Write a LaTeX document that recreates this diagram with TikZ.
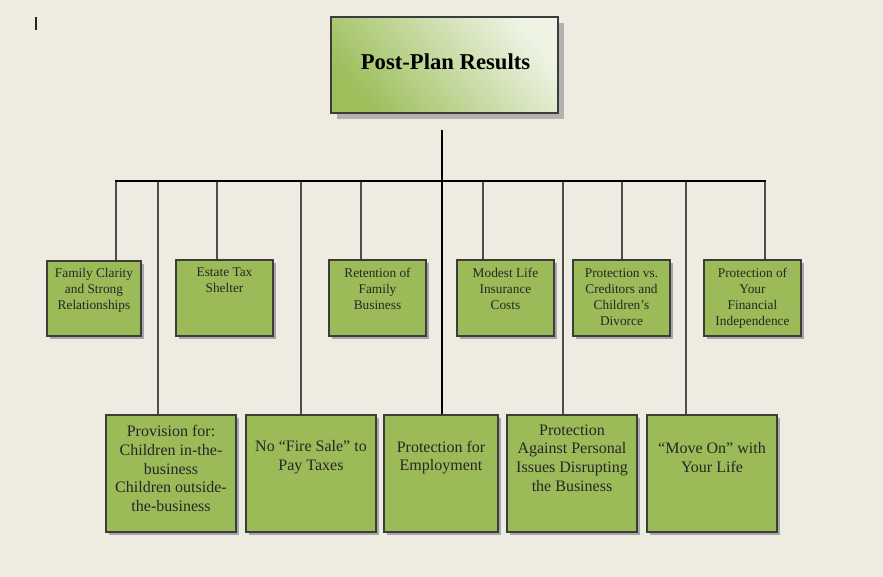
\documentclass[tikz,border=0pt]{standalone}
\usepackage{fontspec}
\setmainfont{Liberation Serif}
\usetikzlibrary{shadows}
\definecolor{bg}{HTML}{EEECE1}
\definecolor{boxgreen}{HTML}{9BBB59}
\definecolor{boxline}{HTML}{3C3C3C}
\definecolor{titlelight}{HTML}{EEF3E4}
\definecolor{titledark}{HTML}{9DBF5C}
\tikzset{
  px/.style={x=0.75pt,y=-0.75pt},
  greenbox/.style={draw=boxline, line width=0.8pt, fill=boxgreen, inner sep=0pt,
    drop shadow={shadow xshift=2.5pt, shadow yshift=-2.5pt, opacity=1, fill=black!35}},
  toptext/.style={anchor=north, align=center, inner sep=0pt, font=\fontsize{10}{12}\selectfont, text=black!85},
  bottext/.style={align=center, inner sep=0pt, font=\fontsize{12}{14}\selectfont, text=black!85},
  thinline/.style={draw=black!70, line width=0.8pt},
  thickline/.style={draw=black, line width=2.2pt},
}
\begin{document}
\begin{tikzpicture}[px]
\fill[bg] (0,0) rectangle (883,577);
\useasboundingbox (0,0) rectangle (883,577);
% cursor mark
\draw[black!85, line width=1.3pt] (36,17) -- (36,30);
% title
\fill[black!30] (337,23) rectangle (564,119);
\shade[top color=titlelight, bottom color=titledark, shading angle=-50] (331,17) rectangle (558,113);
\draw[boxline, line width=0.8pt] (331,17) rectangle (558,113);
\node[inner sep=0pt, font=\fontsize{17}{20}\selectfont\bfseries] (title) at (445.5,62) {Post-Plan Results};
% junctions
\coordinate (t0) at (442,130);
\coordinate (hl) at (115,181);
\coordinate (hr) at (766,181);
\foreach \n/\x in {j1/116, j2/217, j3/361, j4/483, j5/622, j6/765, k1/158, k2/301, k3/442, k4/563, k5/686}
  \coordinate (\n) at (\x,181);
% top boxes
\node[greenbox, minimum width=94*0.75pt, minimum height=75*0.75pt] (a1) at (94,298.5) {};
\node[greenbox, minimum width=97*0.75pt, minimum height=76*0.75pt] (a2) at (224.5,298) {};
\node[greenbox, minimum width=97*0.75pt, minimum height=76*0.75pt] (a3) at (377.5,298) {};
\node[greenbox, minimum width=97*0.75pt, minimum height=76*0.75pt] (a4) at (505.5,298) {};
\node[greenbox, minimum width=97*0.75pt, minimum height=76*0.75pt] (a5) at (621.5,298) {};
\node[greenbox, minimum width=97*0.75pt, minimum height=76*0.75pt] (a6) at (752.5,298) {};
% bottom boxes
\node[greenbox, minimum width=130*0.75pt, minimum height=117*0.75pt] (b1) at (171,473.5) {};
\node[greenbox, minimum width=130*0.75pt, minimum height=117*0.75pt] (b2) at (311,473.5) {};
\node[greenbox, minimum width=114*0.75pt, minimum height=117*0.75pt] (b3) at (441,473.5) {};
\node[greenbox, minimum width=130*0.75pt, minimum height=117*0.75pt] (b4) at (572,473.5) {};
\node[greenbox, minimum width=130*0.75pt, minimum height=117*0.75pt] (b5) at (712,473.5) {};
% connectors
\foreach \j/\b in {j1/a1, j2/a2, j3/a3, j4/a4, j5/a5, j6/a6, k1/b1, k2/b2, k4/b4, k5/b5}
  \draw[thinline] (\j) -- (\j |- \b.north);
\draw[thickline] (t0) -- (t0 |- b3.north);
\draw[thickline] (hl) -- (hr);
% top texts
\node[toptext] (ta1) at (94,268) {Family Clarity\\and Strong\\Relationships};
\node[toptext] (ta2) at (224.5,268) {Estate Tax\\Shelter};
\node[toptext] (ta3) at (377.5,268) {Retention of\\Family\\Business};
\node[toptext] (ta4) at (505.5,268) {Modest Life\\Insurance\\Costs};
\node[toptext] (ta5) at (621.5,268) {Protection vs.\\Creditors and\\Children’s\\Divorce};
\node[toptext] (ta6) at (752.5,268) {Protection of\\Your\\Financial\\Independence};
% bottom texts
\node[bottext] (tb1) at (171,468.5) {Provision for:\\Children in-the-\\business\\Children outside-\\the-business};
\node[bottext] (tb2) at (311,457.5) {No “Fire Sale” to\\Pay Taxes};
\node[bottext] (tb3) at (441,457.5) {Protection for\\Employment};
\node[bottext] (tb4) at (572,458) {Protection\\Against Personal\\Issues Disrupting\\the Business};
\node[bottext] (tb5) at (712,457.5) {“Move On” with\\Your Life};
\end{tikzpicture}
\end{document}
